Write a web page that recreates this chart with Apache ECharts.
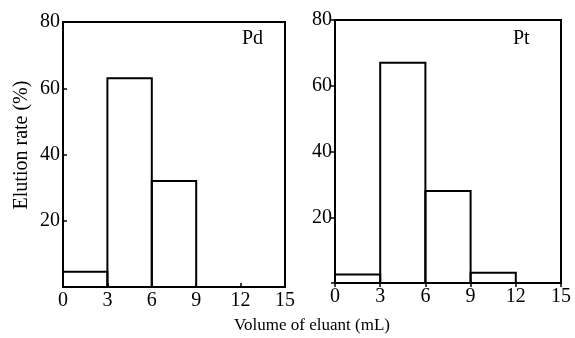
<!DOCTYPE html>
<html>
<head>
<meta charset="utf-8">
<script src="https://cdn.jsdelivr.net/npm/echarts@6/dist/echarts.min.js"></script>
<style>
  html, body { margin: 0; padding: 0; background: #fff; }
  #main { width: 575px; height: 338px; }
</style>
</head>
<body>
<div id="main"></div>
<script>
// bin edges (mL) and elution rate (%) per bin
var binStarts = [0, 3, 6, 9]
var binEnds = [3, 6, 9, 12]
var pdValues = [4.6, 63, 32, 0]
var ptValues = [2.6, 67, 28, 3.1]
var xTicks = [0, 3, 6, 9, 12, 15]
var yTicks = [20, 40, 60, 80]

var chart = echarts.init(document.getElementById('main'))
var font = 'Liberation Serif, Times New Roman, serif'

function binData(values) {
  var out = []
  for (var i = 0; i < values.length; i++) {
    if (values[i] > 0) out.push([binStarts[i], binEnds[i], values[i]])
  }
  return out
}

// draw each bin as an open rectangle
function renderBin(params, api) {
  var p0 = api.coord([api.value(0), api.value(2)])
  var p1 = api.coord([api.value(1), 0])
  return {
    type: 'rect',
    shape: { x: p0[0], y: p0[1], width: p1[0] - p0[0], height: p1[1] - p0[1] },
    style: { fill: 'transparent', stroke: '#000', lineWidth: 2 }
  }
}

function xAxisOpt(idx, inside) {
  return {
    gridIndex: idx,
    type: 'value',
    min: 0,
    max: 15,
    interval: 3,
    axisLine: { lineStyle: { color: '#000', width: 2 } },
    axisTick: { inside: inside, length: 4, lineStyle: { color: '#000', width: 1.5 } },
    splitLine: { show: false },
    axisLabel: {
      color: '#000', fontFamily: font, fontSize: 20, margin: 4,
      formatter: function (v) { return xTicks.indexOf(v) >= 0 ? String(v) : '' }
    }
  }
}

function yAxisOpt(idx, inside) {
  return {
    gridIndex: idx,
    type: 'value',
    min: 0,
    max: 80,
    interval: 20,
    axisLine: { show: true, lineStyle: { color: '#000', width: 2 } },
    axisTick: { inside: inside, length: 4, lineStyle: { color: '#000', width: 1.5 } },
    splitLine: { show: false },
    axisLabel: {
      color: '#000', fontFamily: font, fontSize: 20, margin: 3,
      formatter: function (v) { return yTicks.indexOf(v) >= 0 ? String(v) : '' }
    }
  }
}

var option = {
  animation: false,
  grid: [
    { left: 63, top: 22, width: 222, height: 265, show: true, borderColor: '#000', borderWidth: 2, backgroundColor: 'transparent' },
    { left: 335, top: 20, width: 226, height: 263, show: true, borderColor: '#000', borderWidth: 2, backgroundColor: 'transparent' }
  ],
  xAxis: [xAxisOpt(0, true), xAxisOpt(1, false)],
  yAxis: [yAxisOpt(0, true), yAxisOpt(1, false)],
  series: [
    { name: 'Pd', type: 'custom', xAxisIndex: 0, yAxisIndex: 0, renderItem: renderBin, data: binData(pdValues) },
    { name: 'Pt', type: 'custom', xAxisIndex: 1, yAxisIndex: 1, renderItem: renderBin, data: binData(ptValues) }
  ],
  graphic: [
    { type: 'text', left: 242, top: 29, style: { text: 'Pd', font: '20px ' + font, fill: '#000' } },
    { type: 'text', left: 513, top: 29, style: { text: 'Pt', font: '20px ' + font, fill: '#000' } },
    {
      type: 'text', x: 22, y: 145, rotation: Math.PI / 2,
      style: { text: 'Elution rate (%)', font: '20px ' + font, fill: '#000', align: 'center', verticalAlign: 'middle' }
    },
    {
      type: 'text', x: 312, y: 326,
      style: { text: 'Volume of eluant (mL)', font: '17px ' + font, fill: '#000', align: 'center', verticalAlign: 'middle' }
    }
  ]
}

chart.setOption(option)
</script>
</body>
</html>
